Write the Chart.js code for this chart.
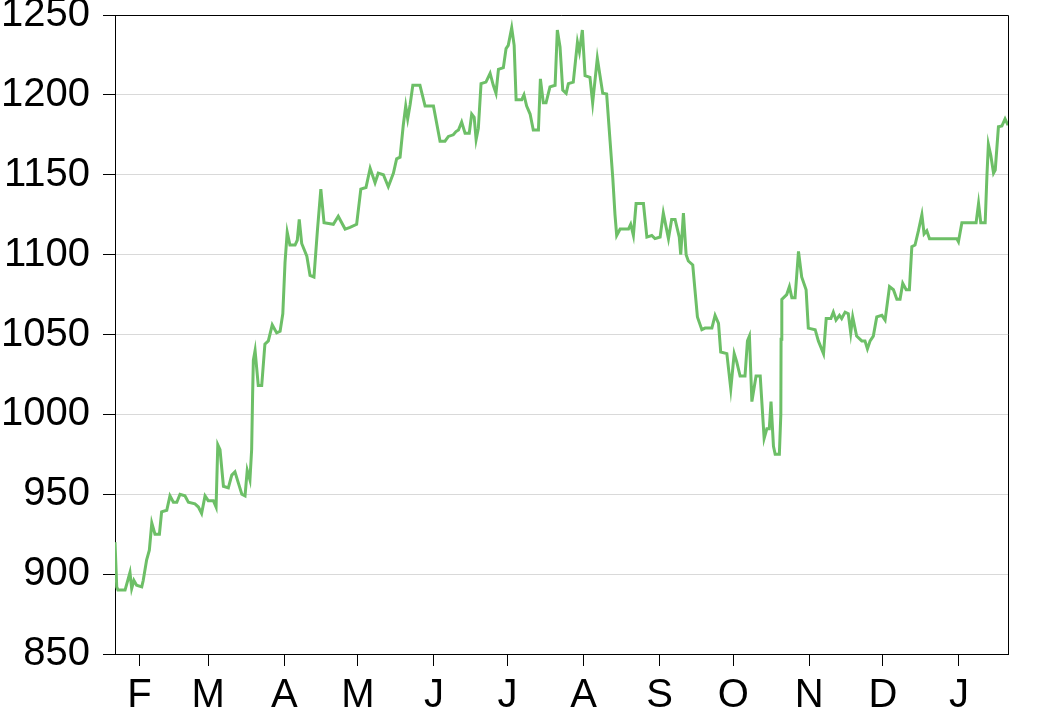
<!DOCTYPE html>
<html>
<head>
<meta charset="utf-8">
<script src="https://cdn.jsdelivr.net/npm/chart.js@4/dist/chart.umd.min.js"></script>
<style>
  html, body { margin: 0; padding: 0; background: #fff; }
  canvas { display: block; }
</style>
</head>
<body>
<canvas id="priceChart" width="1040" height="708"></canvas>
<script>
// day offsets counted from 22 Jan (day 0) to 21 Jan next year (day 364)
var days = [
  0, 0.7, 1.2, 4.1, 6.1, 6.8, 7.7, 8.8, 10.9, 11.5, 12.9, 14.0, 15.0, 16.3, 18.1, 19.0,
  21.1, 22.4, 23.8, 25.2, 26.5, 28.5, 29.9, 32.6, 34.0, 35.3, 36.7, 38.0, 40.1, 41.2, 41.9,
  42.8, 44.2, 46.2, 47.6, 48.9, 50.3, 51.7, 53.0, 53.9, 55.0, 55.7, 56.1, 56.4, 57.1, 58.4,
  59.8, 61.1, 62.5, 64.1, 65.9, 67.3, 68.4, 69.3, 70.2, 71.3, 73.4, 74.3, 75.1, 76.1, 78.2,
  79.5, 81.1, 82.5, 83.9, 85.2, 89.0, 91.0, 93.8, 95.8, 98.5, 100.2, 102.3, 104.0, 106.0,
  107.3, 109.4, 111.4, 113.5, 114.8, 116.2, 117.5, 118.5, 119.3, 120.3, 121.4, 124.3, 126.4,
  129.8, 132.5, 134.5, 135.9, 137.9, 139.0, 140.0, 141.3, 142.7, 144.4, 145.4, 146.4, 147.2,
  148.1, 149.2, 151.2, 152.9, 154.2, 155.3, 156.3, 158.3, 159.4, 160.3, 161.7, 162.7, 163.5,
  165.8, 166.7, 167.8, 169.2, 170.5, 172.6, 173.4, 174.6, 175.7, 177.3, 179.4, 180.3, 181.4,
  182.5, 183.9, 184.8, 186.8, 188.5, 189.3, 190.5, 191.6, 193.6, 194.7, 196.6, 197.7, 198.8,
  200.4, 201.8, 202.9, 203.8, 204.5, 205.9, 209.3, 210.2, 211.3, 212.4, 215.4, 216.8, 218.8,
  220.1, 222.2, 223.5, 225.6, 226.9, 228.3, 230.0, 230.6, 231.7, 232.8, 233.7, 235.5, 236.4,
  237.4, 239.2, 240.5, 243.3, 244.6, 246.0, 246.9, 249.4, 251.0, 252.4, 253.4, 254.8, 256.8,
  257.8, 258.6, 259.6, 261.3, 263.0, 264.6, 265.7, 266.7, 267.4, 268.4, 269.1, 270.8, 271.4,
  271.5, 271.8, 273.8, 274.9, 275.9, 277.2, 278.6, 279.9, 281.7, 282.6, 285.4, 286.7, 288.8,
  289.9, 291.8, 292.8, 293.9, 295.3, 296.2, 297.6, 298.9, 299.9, 300.7, 302.3, 304.4, 305.7,
  306.7, 307.8, 309.1, 310.5, 312.6, 313.9, 315.7, 317.3, 318.7, 320.0, 321.1, 322.5, 323.8,
  324.8, 326.1, 327.5, 328.9, 329.8, 330.9, 332.0, 343.1, 343.8, 345.2, 351.0, 352.0, 352.9,
  354.7, 355.4, 356.0, 357.0, 358.1, 358.8, 360.1, 361.5, 362.8, 364.0
];
var prices = [
  920, 892, 890, 890, 901, 891, 896, 893, 892, 896, 909, 915, 932, 925, 925, 939,
  940, 949, 945, 945, 950, 949, 945, 944, 942, 938, 949, 946, 946, 942, 981,
  978, 955, 954, 962, 964, 957, 950, 949, 965, 959, 978, 1013, 1034, 1040, 1018,
  1018, 1044, 1046, 1056, 1051, 1052, 1063, 1095, 1114, 1106, 1106, 1109, 1122, 1107, 1099,
  1087, 1086, 1115, 1141, 1120, 1119, 1124, 1116, 1117, 1119, 1141, 1142, 1154, 1145,
  1151, 1150, 1142.5, 1151, 1160, 1161, 1181, 1193, 1185, 1194, 1206, 1206, 1193,
  1193, 1171, 1171, 1174, 1175, 1177, 1178, 1183, 1176, 1176, 1188, 1186, 1172,
  1179, 1207, 1208, 1213.5, 1206, 1201, 1216, 1217, 1229, 1231, 1242, 1231, 1197,
  1197, 1200, 1193, 1188, 1178, 1178, 1210, 1195, 1195, 1205, 1206, 1240.6, 1230,
  1203, 1201, 1207, 1208, 1233, 1227, 1240.6, 1212, 1211, 1195, 1223, 1212, 1201,
  1200.5, 1171, 1148, 1125, 1112, 1116, 1116, 1119, 1112, 1132, 1132, 1111, 1112,
  1110, 1111, 1126, 1110, 1122, 1122, 1111, 1100, 1126, 1100, 1096, 1093.5, 1078,
  1061, 1053, 1054, 1054, 1062, 1057, 1039, 1038, 1016, 1038, 1033, 1024, 1024,
  1046, 1049, 1008, 1024, 1024, 985, 991, 991, 1008, 980, 975, 975, 1000,
  1047, 1072, 1075, 1080, 1073, 1073, 1102, 1086, 1078, 1054, 1053, 1046, 1038,
  1060, 1060, 1064, 1059, 1062, 1060, 1064, 1063, 1051, 1061, 1049, 1046, 1046,
  1041, 1046, 1049, 1061, 1062, 1059, 1080, 1078, 1072, 1072, 1082, 1078, 1078,
  1105, 1106, 1115, 1125, 1113, 1115, 1110, 1110, 1108, 1120, 1120, 1132, 1120,
  1120, 1149, 1169, 1162, 1151, 1153, 1180, 1180.5, 1185, 1181
];
var monthStarts = [10, 38, 69, 99, 130, 160, 191, 222, 252, 283, 313, 344];
var monthLabels = ['F', 'M', 'A', 'M', 'J', 'J', 'A', 'S', 'O', 'N', 'D', 'J'];
var yTicks = [850, 900, 950, 1000, 1050, 1100, 1150, 1200, 1250];

(function () {
  var canvas = document.getElementById('priceChart');
  if (!canvas || typeof Chart === 'undefined') return;

  var points = days.map(function (d, i) {
    return { x: d, y: prices[i] };
  });

  Chart.defaults.font.family = '"Liberation Sans", Arial, sans-serif';
  Chart.defaults.color = '#000';

  // black frame on top and right of the plot area
  var framePlugin = {
    id: 'frame',
    afterDraw: function (chart) {
      var a = chart.chartArea;
      var ctx = chart.ctx;
      ctx.save();
      ctx.strokeStyle = '#000';
      ctx.lineWidth = 1;
      ctx.beginPath();
      ctx.moveTo(a.left, a.top + 0.5);
      ctx.lineTo(a.right + 0.5, a.top + 0.5);
      ctx.lineTo(a.right + 0.5, a.bottom);
      ctx.stroke();
      ctx.restore();
    }
  };

  new Chart(canvas, {
    type: 'line',
    data: {
      datasets: [
        {
          data: points,
          borderColor: '#6dbf67',
          borderWidth: 3,
          pointRadius: 0,
          tension: 0,
          fill: false
        }
      ]
    },
    options: {
      responsive: false,
      animation: false,
      layout: { padding: { top: 15, right: 32, left: 0, bottom: 0 } },
      plugins: {
        legend: { display: false },
        tooltip: { enabled: false }
      },
      scales: {
        x: {
          type: 'linear',
          min: 0,
          max: 364,
          afterFit: function (scale) {
            scale.height = 54;
            scale.paddingLeft = 0;
            scale.paddingRight = 0;
          },
          afterBuildTicks: function (scale) {
            scale.ticks = monthStarts.map(function (v) { return { value: v }; });
          },
          grid: {
            drawOnChartArea: false,
            tickLength: 12,
            tickColor: '#000'
          },
          border: { color: '#000' },
          ticks: {
            autoSkip: false,
            maxRotation: 0,
            padding: 6,
            font: { size: 40 },
            callback: function (value) {
              var i = monthStarts.indexOf(value);
              return i >= 0 ? monthLabels[i] : '';
            }
          }
        },
        y: {
          min: 850,
          max: 1250,
          afterFit: function (scale) {
            scale.width = 115;
            scale.paddingTop = 0;
            scale.paddingBottom = 0;
          },
          afterBuildTicks: function (scale) {
            scale.ticks = yTicks.map(function (v) { return { value: v }; });
          },
          grid: {
            color: '#d9d9d9',
            tickLength: 12,
            tickColor: '#000'
          },
          border: { color: '#000' },
          ticks: {
            padding: 13,
            font: { size: 40 },
            callback: function (value) { return String(value); }
          }
        }
      }
    },
    plugins: [framePlugin]
  });
})();
</script>
</body>
</html>
